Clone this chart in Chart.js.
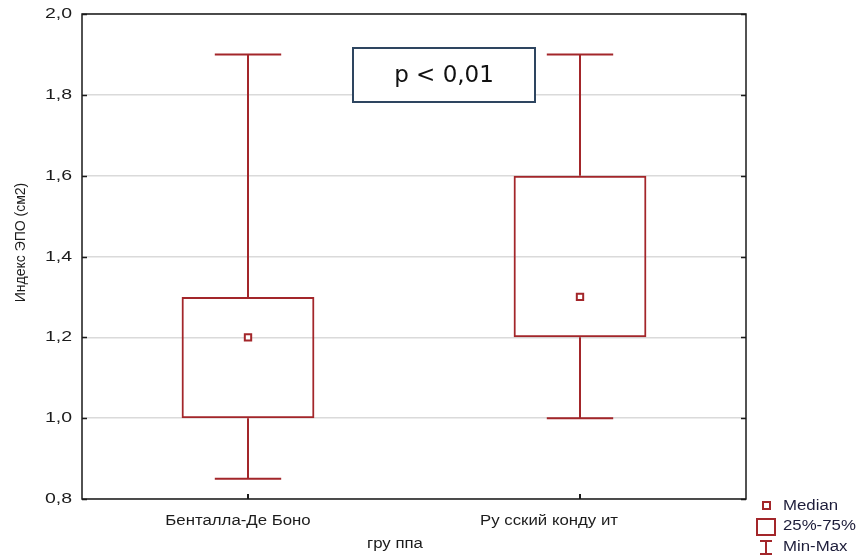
<!DOCTYPE html>
<html>
<head>
<meta charset="utf-8">
<script src="https://cdn.jsdelivr.net/npm/chart.js@4/dist/chart.umd.min.js"></script>
<style>
  html, body { margin: 0; padding: 0; background: #fff; }
  #wrap { width: 861px; height: 557px; }
</style>
</head>
<body>
<div id="wrap"><canvas id="c" width="861" height="557"></canvas></div>
<script>
// Box-plot data per group
const groups = ['Бенталла-Де Боно', 'Ру сский конду ит'];
const minValues = [0.85, 1.0];
const q1Values = [1.0, 1.2];
const medianValues = [1.2, 1.3];
const q3Values = [1.3, 1.6];
const maxValues = [1.9, 1.9];
const yTickValues = [0.8, 1.0, 1.2, 1.4, 1.6, 1.8, 2.0];

const axisTitleX = 'гру ппа';
const axisTitleY = 'Индекс ЭПО (см2)';
const pValueText = 'p < 0,01';
const legendLabels = ['Median', '25%-75%', 'Min-Max'];

const RED = '#A3262A';
const TEXT = '#1c1c1c';
const FONT = "'Liberation Sans', Arial, sans-serif";
const fmt = v => v.toFixed(1).replace('.', ',');

// text with a slight horizontal stretch, as the original output renders it
function wideText(ctx, text, x, y, align, sx) {
  ctx.save();
  ctx.translate(x, y);
  ctx.scale(sx, 1);
  ctx.textAlign = align;
  ctx.fillText(text, 0, 0);
  ctx.restore();
}

// Whiskers, frame, inward ticks, labels, legend and p-value box
const boxPlotExtras = {
  id: 'boxPlotExtras',
  beforeDatasetsDraw(chart) {
    const ctx = chart.ctx;
    const a = chart.chartArea;
    const y = chart.scales.y;
    const x = chart.scales.x;
    ctx.save();
    // plot frame
    ctx.strokeStyle = '#1a1a1a';
    ctx.lineWidth = 1.5;
    ctx.strokeRect(a.left, a.top, a.right - a.left, a.bottom - a.top);
    // inward ticks on left and right borders
    yTickValues.forEach(v => {
      const py = Math.round(y.getPixelForValue(v)) + 0.5;
      ctx.beginPath();
      ctx.moveTo(a.left, py); ctx.lineTo(a.left + 5, py);
      ctx.moveTo(a.right, py); ctx.lineTo(a.right - 5, py);
      ctx.stroke();
    });
    // inward ticks on the category axis
    ctx.lineWidth = 2;
    groups.forEach((g, i) => {
      const px = Math.round(x.getPixelForValue(i));
      ctx.beginPath();
      ctx.moveTo(px, a.bottom); ctx.lineTo(px, a.bottom - 5);
      ctx.stroke();
    });
    // whiskers
    const meta = chart.getDatasetMeta(0);
    ctx.strokeStyle = RED;
    ctx.lineWidth = 2;
    meta.data.forEach((el, i) => {
      const cx = Math.round(el.x);
      const half = el.width / 4;
      const yMin = y.getPixelForValue(minValues[i]);
      const yMax = y.getPixelForValue(maxValues[i]);
      const yQ1 = y.getPixelForValue(q1Values[i]);
      const yQ3 = y.getPixelForValue(q3Values[i]);
      ctx.beginPath();
      ctx.moveTo(cx, yMax); ctx.lineTo(cx, yQ3);
      ctx.moveTo(cx, yQ1); ctx.lineTo(cx, yMin);
      ctx.moveTo(cx - half, yMax); ctx.lineTo(cx + half, yMax);
      ctx.moveTo(cx - half, yMin); ctx.lineTo(cx + half, yMin);
      ctx.stroke();
    });
    ctx.restore();
  },
  afterDraw(chart) {
    const ctx = chart.ctx;
    const a = chart.chartArea;
    const x = chart.scales.x;
    const y = chart.scales.y;
    ctx.save();
    ctx.fillStyle = TEXT;
    ctx.textBaseline = 'middle';

    // value-axis labels
    ctx.font = '15px ' + FONT;
    yTickValues.forEach(v => {
      wideText(ctx, fmt(v), a.left - 10, y.getPixelForValue(v), 'right', 1.3);
    });

    // category labels
    ctx.font = '14px ' + FONT;
    const labelShift = [-10, -31];
    groups.forEach((g, i) => {
      wideText(ctx, g, x.getPixelForValue(i) + labelShift[i], a.bottom + 22, 'center', 1.2);
    });

    // axis titles
    wideText(ctx, axisTitleX, (a.left + a.right) / 2 - 19, a.bottom + 45, 'center', 1.2);
    ctx.save();
    ctx.translate(21, (a.top + a.bottom) / 2 - 14);
    ctx.rotate(-Math.PI / 2);
    ctx.font = '14px ' + FONT;
    ctx.textAlign = 'center';
    ctx.fillText(axisTitleY, 0, 0);
    ctx.restore();

    // p-value box
    const bx = 353, by = 48, bw = 182, bh = 54;
    ctx.fillStyle = '#fff';
    ctx.fillRect(bx, by, bw, bh);
    ctx.strokeStyle = '#2E4560';
    ctx.lineWidth = 2;
    ctx.strokeRect(bx, by, bw, bh);
    ctx.fillStyle = '#111';
    ctx.font = "23px 'DejaVu Sans', Verdana, sans-serif";
    ctx.textAlign = 'center';
    ctx.fillText(pValueText, bx + bw / 2, by + bh / 2 + 1);

    // legend
    const lx = a.right + 20;
    ctx.strokeStyle = RED;
    ctx.lineWidth = 2;
    ctx.strokeRect(lx - 3, 502, 7, 7);
    ctx.strokeRect(lx - 9, 519, 18, 16);
    ctx.beginPath();
    ctx.moveTo(lx, 540); ctx.lineTo(lx, 555);
    ctx.moveTo(lx - 6, 541); ctx.lineTo(lx + 6, 541);
    ctx.moveTo(lx - 6, 554); ctx.lineTo(lx + 6, 554);
    ctx.stroke();
    ctx.fillStyle = '#1d1d3a';
    ctx.font = '14px ' + FONT;
    wideText(ctx, legendLabels[0], lx + 17, 506, 'left', 1.2);
    wideText(ctx, legendLabels[1], lx + 17, 526, 'left', 1.2);
    wideText(ctx, legendLabels[2], lx + 17, 547, 'left', 1.2);
    ctx.restore();
  }
};

new Chart(document.getElementById('c'), {
  type: 'bar',
  data: {
    labels: groups,
    datasets: [
      {
        label: '25%-75%',
        data: groups.map((g, i) => [q1Values[i], q3Values[i]]),
        backgroundColor: 'rgba(255,255,255,0)',
        borderColor: RED,
        borderWidth: 2,
        borderSkipped: false,
        barPercentage: 0.4,
        categoryPercentage: 1.0
      },
      {
        type: 'line',
        label: 'Median',
        data: medianValues,
        showLine: false,
        pointStyle: 'rect',
        pointRadius: 4.5,
        pointBackgroundColor: '#fff',
        pointBorderColor: RED,
        pointBorderWidth: 2
      }
    ]
  },
  options: {
    responsive: false,
    animation: false,
    layout: { padding: { top: 14, right: 115, left: 0, bottom: 0 } },
    plugins: { legend: { display: false }, tooltip: { enabled: false } },
    scales: {
      x: {
        grid: { display: false, drawTicks: false },
        border: { display: false },
        ticks: { display: false },
        afterFit: s => { s.height = 58; }
      },
      y: {
        min: 0.8,
        max: 2.0,
        afterBuildTicks: s => { s.ticks = yTickValues.map(v => ({ value: v })); },
        ticks: { display: false },
        grid: { color: '#dadada', lineWidth: 1.5, drawTicks: false },
        border: { display: false },
        afterFit: s => { s.width = 82; }
      }
    }
  },
  plugins: [boxPlotExtras]
});
</script>
</body>
</html>
